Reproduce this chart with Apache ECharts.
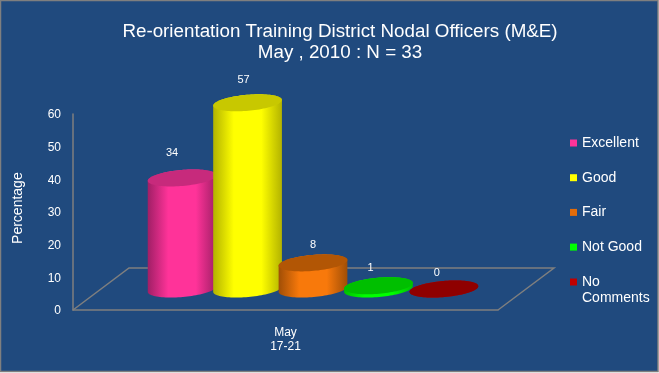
<!DOCTYPE html>
<html>
<head>
<meta charset="utf-8">
<style>html,body{margin:0;padding:0;background:#fff}#main{width:659px;height:373px}</style>
<script src="https://cdn.jsdelivr.net/npm/echarts@6/dist/echarts.min.js"></script>
</head>
<body>
<div id="main"></div>
<script>
var months = ['May\n17-21'];
var ratings = ['Excellent', 'Good', 'Fair', 'Not Good', 'No Comments'];
var percents = [34, 57, 8, 1, 0];

var legendColors = ['#ff3399', '#ffff00', '#e36c09', '#00ff00', '#c00000'];
var sideColors = ['#ff3399', '#ffff00', '#f8790b', '#00ff00', '#c00000'];
var edgeColors = ['#a01f66', '#b3b300', '#a04e06', '#00c000', '#8f0000'];
var topColors = ['#c72a7c', '#c8c800', '#b25605', '#00bf00', '#8f0000'];
// value labels were hand placed in the original
var labelShift = [[-10, -25], [-4, -23], [0, -18], [-8, -18], [-7, -16]];

var myChart = echarts.init(document.getElementById('main'));

var depthX = 56, depthY = 42; // floor depth in px
var rx = 34.5, ry = 8, tilt = 5 * Math.PI / 180;

function ellipsePoint(cx, cy, t) {
  var x = rx * Math.cos(t), y = ry * Math.sin(t);
  return [cx + x * Math.cos(tilt) + y * Math.sin(tilt), cy - x * Math.sin(tilt) + y * Math.cos(tilt)];
}

function cylinder(i) {
  return function (params, api) {
    var value = api.value(1);
    var top = api.coord([0, value]);
    var zero = api.coord([0, 0]);
    var step = api.size([1, 0])[0] * 0.154;
    var cx = zero[0] + depthX / 2 - 0.5 + (i - 2) * step;
    var baseY = zero[1] - depthY / 2;
    var topY = top[1] - depthY / 2;
    var n = 48, k, body = [], cap = [];
    for (k = 0; k <= n; k++) body.push(ellipsePoint(cx, baseY, Math.PI * k / n));
    for (k = n; k <= n * 2; k++) body.push(ellipsePoint(cx, topY, Math.PI * k / n));
    for (k = 0; k < n * 2; k++) cap.push(ellipsePoint(cx, topY, Math.PI * k / n));
    return {
      type: 'group',
      children: [
        {
          type: 'polygon',
          shape: { points: body },
          style: {
            fill: new echarts.graphic.LinearGradient(0, 0, 1, 0, [
              { offset: 0, color: edgeColors[i] },
              { offset: 0.3, color: sideColors[i] },
              { offset: 0.7, color: sideColors[i] },
              { offset: 1, color: edgeColors[i] }
            ])
          }
        },
        { type: 'polygon', shape: { points: cap }, style: { fill: topColors[i] } },
        {
          type: 'text',
          style: {
            x: cx + labelShift[i][0],
            y: topY + labelShift[i][1],
            text: String(value),
            fill: '#fff',
            font: '11px "Liberation Sans"',
            align: 'center',
            verticalAlign: 'middle'
          }
        }
      ]
    };
  };
}

function floor(params, api) {
  var c = params.coordSys;
  var bottom = c.y + c.height, right = c.x + c.width;
  return {
    type: 'polyline',
    shape: {
      points: [
        [c.x, bottom],
        [c.x + depthX, bottom - depthY],
        [right + depthX, bottom - depthY],
        [right, bottom]
      ]
    },
    style: { fill: 'none', stroke: '#7f7f7f', lineWidth: 1.5 }
  };
}

var series = [{
  type: 'custom',
  silent: true,
  clip: false,
  renderItem: floor,
  data: [[0, 0]],
  z: 1
}];
for (var i = 0; i < ratings.length; i++) {
  series.push({
    name: ratings[i],
    type: 'custom',
    clip: false,
    renderItem: cylinder(i),
    itemStyle: { color: legendColors[i] },
    encode: { x: 0, y: 1 },
    data: [[0, percents[i]]],
    z: 2
  });
}

var legendText = { color: '#fff', fontFamily: 'Liberation Sans', fontSize: 14, lineHeight: 16 };

var option = {
  backgroundColor: '#fff',
  animation: false,
  graphic: [{
    type: 'rect',
    z: -1,
    shape: { x: 0.5, y: 0.5, width: 657.5, height: 371 },
    style: { fill: '#204a7e', stroke: '#7f7f7f', lineWidth: 1.5 }
  }],
  title: {
    text: 'Re-orientation Training District Nodal Officers (M&E)\nMay , 2010 : N = 33',
    left: 340,
    top: 21,
    textAlign: 'center',
    padding: 0,
    textStyle: { color: '#fff', fontFamily: 'Liberation Sans', fontWeight: 'normal', fontSize: 18.8, lineHeight: 21.5 }
  },
  legend: [{
    orient: 'vertical',
    left: 570,
    top: 135,
    padding: 0,
    itemWidth: 7,
    itemHeight: 7,
    itemGap: 18.7,
    icon: 'rect',
    selectedMode: false,
    textStyle: legendText,
    data: ratings.slice(0, 4)
  }, {
    // own legend so the swatch lines up with the first of the two text lines
    left: 570,
    top: 258,
    padding: 0,
    itemWidth: 7,
    itemHeight: 7,
    icon: 'rect',
    selectedMode: false,
    formatter: function (name) { return '\n' + name.replace(' ', '\n'); },
    textStyle: legendText,
    data: ratings.slice(4)
  }],
  grid: { left: 73, right: 161, top: 114, bottom: 63 },
  xAxis: {
    type: 'category',
    data: months,
    axisTick: { show: false },
    axisLine: { lineStyle: { color: '#7f7f7f', width: 1.5 } },
    axisLabel: { color: '#fff', fontFamily: 'Liberation Sans', fontSize: 12, lineHeight: 14, margin: 16 }
  },
  yAxis: {
    type: 'value',
    min: 0,
    max: 60,
    interval: 10,
    name: '\u00a0\u00a0Percentage',
    nameLocation: 'middle',
    nameGap: 48,
    nameTextStyle: { color: '#fff', fontFamily: 'Liberation Sans', fontSize: 14 },
    splitLine: { show: false },
    axisTick: { show: false },
    axisLine: { show: true, lineStyle: { color: '#7f7f7f', width: 1.5 } },
    axisLabel: {
      margin: 12,
      formatter: '{v|{value}}',
      rich: { v: { color: '#fff', fontFamily: 'Liberation Sans', fontSize: 12, padding: [2, 0, 0, 0] } }
    }
  },
  series: series
};

myChart.setOption(option);
</script>
</body>
</html>
